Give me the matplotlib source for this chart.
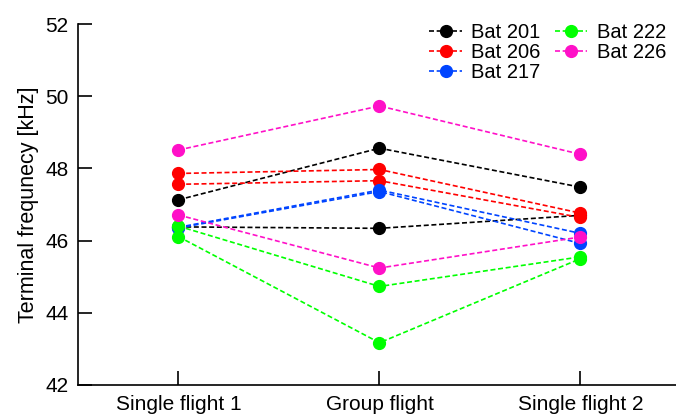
import matplotlib
matplotlib.use("Agg")
import matplotlib.pyplot as plt
import numpy as np

plt.rcParams['font.family'] = ['Liberation Sans', 'DejaVu Sans']

conditions = ['Single flight 1', 'Group flight', 'Single flight 2']
bats = ['Bat 201', 'Bat 206', 'Bat 217', 'Bat 222', 'Bat 226']
colors = ['#000000', '#ff0000', '#0044ff', '#00ff00', '#ff10c8']

# two recordings per bat, values per condition (kHz)
bat201 = [[47.13, 48.56, 47.48], [46.38, 46.34, 46.70]]
bat206 = [[47.86, 47.97, 46.76], [47.56, 47.66, 46.64]]
bat217 = [[46.37, 47.40, 46.20], [46.35, 47.36, 45.92]]
bat222 = [[46.40, 44.73, 45.55], [46.11, 43.17, 45.50]]
bat226 = [[48.51, 49.73, 48.39], [46.71, 45.24, 46.10]]
all_bats = [bat201, bat206, bat217, bat222, bat226]

x = np.arange(1, len(conditions) + 1)

fig = plt.figure(figsize=(6.76, 4.16), dpi=100)
ax = fig.add_axes([78/676, 31/416, 603/676, 361/416])

for name, col, rec in zip(bats, colors, all_bats):
    for i, vals in enumerate(rec):
        ax.plot(x, vals, linestyle=(0, (3, 1.6)), linewidth=1.2, color=col,
                marker='o', markersize=8.5, label=name if i == 0 else None,
                clip_on=False)

ax.set_xlim(0.5, 3.5)
ax.set_ylim(42, 52)
ax.set_yticks([42, 44, 46, 48, 50, 52])
ax.set_xticks(x)
ax.set_xticklabels(conditions)
ax.set_ylabel('Terminal frequnecy [kHz]', fontsize=15.5, labelpad=4)

ax.spines['top'].set_visible(False)
ax.spines['right'].set_visible(False)
ax.spines['left'].set_linewidth(1.2)
ax.spines['bottom'].set_linewidth(1.2)
ax.tick_params(direction='in', length=10, width=1.2, labelsize=15, pad=7)

ax.legend(ncol=2, frameon=False, fontsize=14.5, loc='upper right',
          bbox_to_anchor=(0.995, 1.035), handlelength=1.6, handletextpad=0.45,
          columnspacing=0.75, labelspacing=0.05, borderaxespad=0.2)

fig.savefig('out.png', dpi=100)
